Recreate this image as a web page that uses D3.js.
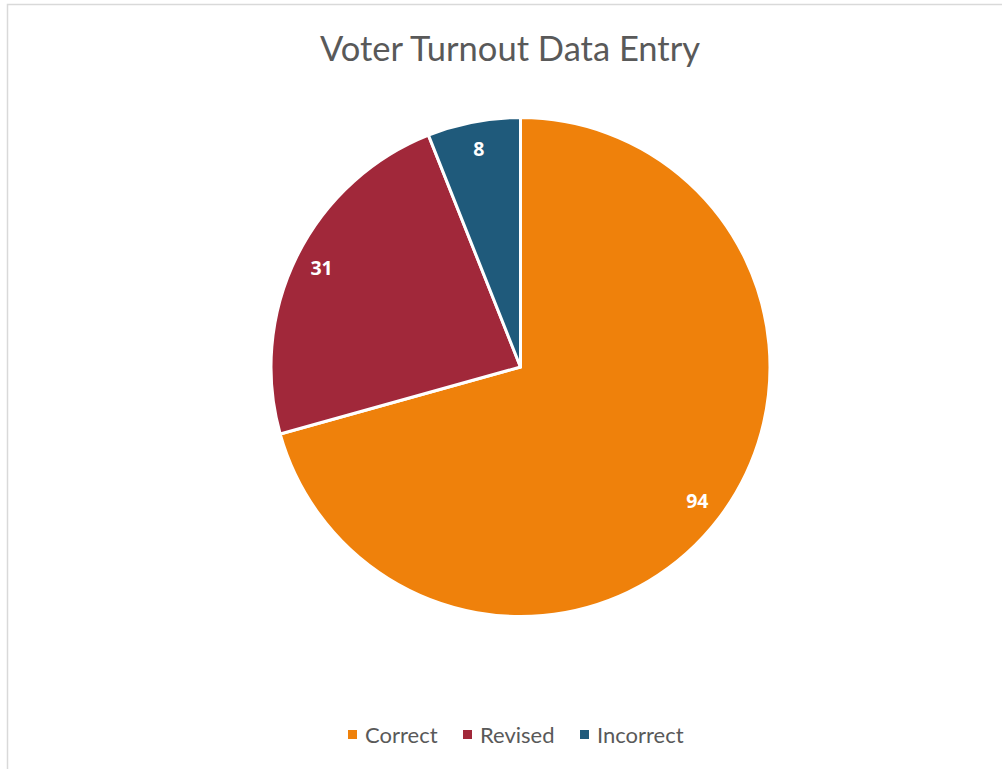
<!DOCTYPE html>
<html>
<head>
<meta charset="utf-8">
<script src="https://cdn.jsdelivr.net/npm/d3@7"></script>
<style>
  html, body { margin: 0; padding: 0; background: #fff; }
  svg { display: block; }
</style>
</head>
<body>
<svg id="chart" width="1002" height="769"></svg>
<script>
const categories = ["Correct", "Revised", "Incorrect"];
const values = [94, 31, 8];
const colors = ["#EF810B", "#A1283A", "#1F5A7B"];
const title = "Voter Turnout Data Entry";

const svg = d3.select("#chart");
const W = 1002, H = 769;

// chart area border
svg.append("rect")
  .attr("x", 7.5).attr("y", 4.5)
  .attr("width", W + 20).attr("height", H + 20)
  .attr("fill", "#fff")
  .attr("stroke", "#d9d9d9").attr("stroke-width", 1.5);

// title
svg.append("text")
  .attr("x", 510).attr("y", 61)
  .attr("text-anchor", "middle")
  .attr("font-family", "Lato, 'Open Sans', sans-serif")
  .attr("font-size", 34.5)
  .attr("fill", "#595959")
  .text(title);

const cx = 520.5, cy = 367, R = 249.5;
const data = categories.map((c, i) => ({ cat: c, value: values[i], color: colors[i] }));

const pie = d3.pie().value(d => d.value).sort(null);
const arcs = pie(data);
const arc = d3.arc().innerRadius(0).outerRadius(R);
const labelArc = d3.arc().innerRadius(R * 0.89).outerRadius(R * 0.89);

const g = svg.append("g").attr("transform", `translate(${cx},${cy})`);
g.selectAll("path.slice").data(arcs).join("path")
  .attr("class", "slice")
  .attr("d", arc)
  .attr("fill", d => d.data.color)
  .attr("stroke", "#fff")
  .attr("stroke-width", 3)
  .attr("stroke-linejoin", "round");

g.selectAll("text.lbl").data(arcs).join("text")
  .attr("class", "lbl")
  .attr("transform", d => `translate(${labelArc.centroid(d)})`)
  .attr("text-anchor", "middle")
  .attr("dy", "0.36em")
  .attr("font-family", "'Open Sans', Lato, sans-serif")
  .attr("font-weight", "bold")
  .attr("font-size", 19.5)
  .attr("fill", "#fff")
  .text(d => d.data.value);

// legend
const legendX = [348, 463, 580];
const lg = svg.append("g");
data.forEach((d, i) => {
  const item = lg.append("g").attr("transform", `translate(${legendX[i]},735)`);
  item.append("rect").attr("x", 0).attr("y", -5).attr("width", 9).attr("height", 9).attr("fill", d.color);
  item.append("text").attr("x", 17).attr("y", 0).attr("dy", "0.35em")
    .attr("font-family", "Lato, 'Open Sans', sans-serif")
    .attr("font-size", 22)
    .attr("fill", "#595959")
    .text(d.cat);
});
</script>
</body>
</html>
